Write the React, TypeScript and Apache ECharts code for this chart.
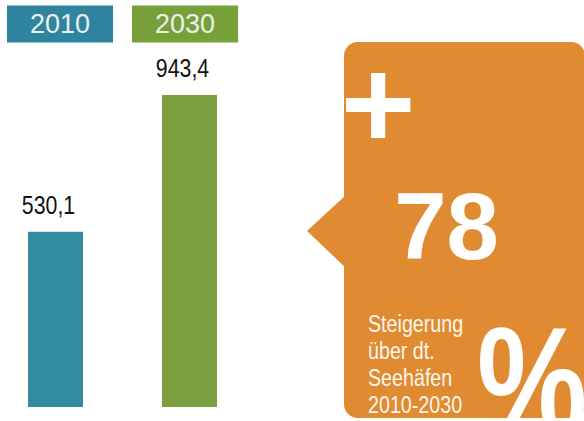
import React, { useEffect, useRef } from "react";
import * as echarts from "echarts";

const categories = ["2010", "2030"];
const values = [530.1, 943.4];
const categoryColors = ["#2F84A0", "#77A039"];
const barColors = ["#338BA1", "#7A9E40"];
const calloutSign = "+";
const calloutValue = "78";
const calloutUnit = "%";
const calloutLines = ["Steigerung", "über dt.", "Seehäfen", "2010-2030"];

const ORANGE = "#E08B32";
const SANS = "'Liberation Sans', Arial, Helvetica, sans-serif";
const NARROW_SCALE = 0.82;
const BAR_SHIFT = [-4.5, 4.5];

export default function App() {
  const ref = useRef<HTMLDivElement>(null);
  useEffect(() => {
    if (!ref.current) return;
    const chart = echarts.init(ref.current, null, { renderer: "svg" });
    const rich: Record<string, any> = {};
    categories.forEach((_, i) => {
      rich["c" + i] = {
        backgroundColor: categoryColors[i],
        color: "#E9F1EF",
        fontSize: 27,
        fontFamily: SANS,
        lineHeight: 27,
        padding: [5, 23, 5, 23],
      };
    });
    const barSeries = values.map((v, i) => ({
      type: "bar",
      data: values.map((_, j) => (j === i ? v : "-")),
      barWidth: 55,
      barGap: "-83.6%",
      itemStyle: { color: barColors[i] },
    }));
    const labelSeries = {
      type: "custom",
      data: values.map((v, i) => [i, v]),
      z: 5,
      renderItem: (params: any, api: any) => {
        const i = api.value(0);
        const v = api.value(1);
        const pt = api.coord([i, v]);
        return {
          type: "text",
          x: pt[0] + BAR_SHIFT[i] - 7,
          y: pt[1] - 27.5,
          scaleX: NARROW_SCALE,
          style: {
            text: String(v).replace(".", ","),
            fill: "#111",
            font: `26px ${SANS}`,
            align: "center",
            verticalAlign: "middle",
          },
        };
      },
    };
    chart.setOption({
      animation: false,
      grid: { left: 60, right: 399, top: 76.4, bottom: 14 },
      xAxis: {
        type: "category",
        data: categories,
        position: "top",
        boundaryGap: false,
        axisLine: { show: false },
        axisTick: { show: false },
        splitLine: { show: false },
        axisLabel: {
          interval: 0,
          margin: 39,
          formatter: (v: string, i: number) => `{c${i}|${v}}`,
          rich,
        },
      },
      yAxis: { type: "value", min: 0, max: 1000, show: false },
      series: [...barSeries, labelSeries],
      graphic: [
        {
          type: "polygon",
          shape: { points: [[346, 195], [307, 231], [346, 268]] },
          style: { fill: ORANGE },
        },
        {
          type: "rect",
          shape: { x: 344, y: 42, width: 241, height: 376, r: 14 },
          style: { fill: ORANGE },
        },
        {
          type: "text",
          x: 378,
          y: 103.5,
          style: {
            text: calloutSign,
            fill: "#fff",
            font: `bold 128px ${SANS}`,
            align: "center",
            verticalAlign: "middle",
          },
        },
        {
          type: "text",
          x: 446.5,
          y: 226.4,
          style: {
            text: calloutValue,
            fill: "#fff",
            font: `bold 94px ${SANS}`,
            align: "center",
            verticalAlign: "middle",
          },
        },
        {
          type: "text",
          x: 368,
          y: 364,
          scaleX: NARROW_SCALE,
          style: {
            text: calloutLines.join("\n"),
            fill: "#FFF6EC",
            font: `24px ${SANS}`,
            lineHeight: 27,
            align: "left",
            verticalAlign: "middle",
          },
        },
        {
          type: "text",
          x: 477,
          y: 382,
          scaleX: 0.8,
          style: {
            text: calloutUnit,
            fill: "#fff",
            font: `bold 155px ${SANS}`,
            align: "left",
            verticalAlign: "middle",
          },
        },
      ],
    });
    return () => chart.dispose();
  }, []);
  return (
    <div
      ref={ref}
      style={{ position: "absolute", left: 0, top: 0, width: 584, height: 421 }}
    />
  );
}
